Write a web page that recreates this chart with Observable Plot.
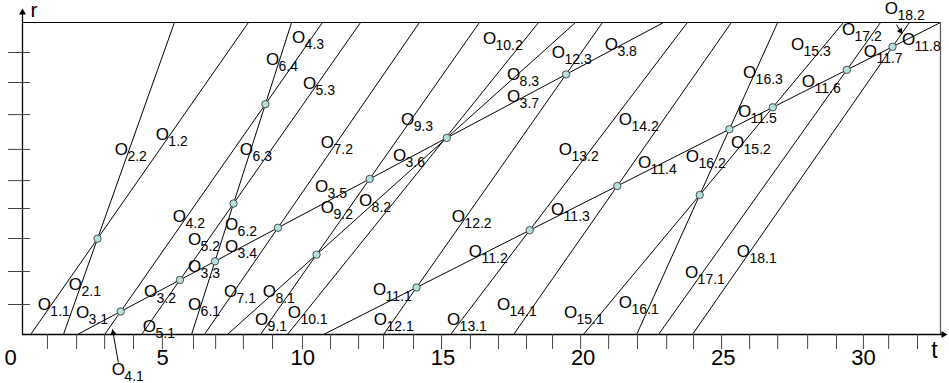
<!DOCTYPE html>
<html>
<head>
<meta charset="utf-8">
<script src="https://cdn.jsdelivr.net/npm/d3@7"></script>
<script src="https://cdn.jsdelivr.net/npm/@observablehq/plot@0.6"></script>
<style>
  html, body { margin: 0; padding: 0; background: #fff; }
  svg { display: block; }
</style>
</head>
<body>
<div id="chart"></div>
<script>
// ---------- data ----------
const R_MAX = 10.4;     // top of frame (r)
const T_MAX = 32.75;    // right of frame (t)

// each object moves along a straight line from (startT, r=0) to (endT, r=R_MAX)
const objectIds = [1,2,3,4,5,6,7,8,9,10,11,12,13,14,15,16,17,18];
const startT = [0.29, 1.46, 1.96, 2.93, 4.25, 6.03, 6.49, 7.31, 8.49, 9.45, 10.74, 12.88, 15.27, 17.52, 20.01, 21.91, 22.69, 23.90];
const endT   = [8.06, 5.42, 22.87, 10.70, 12.06, 9.60, 14.16, 19.73, 16.30, 18.41, 32.75, 20.69, 23.72, 25.29, 29.29, 26.94, 30.61, 31.64];

// interaction points (pairs of objects whose lines meet at a marked node)
const nodePairs = [[1,2],[3,4],[3,5],[3,6],[5,6],[4,6],[3,7],[8,9],[3,9],[3,8],[3,12],
                   [11,12],[11,13],[11,14],[15,16],[11,16],[11,15],[11,17],[11,18]];

// segment labels  O_{k.j}
const labelIds = ["1.1","1.2","2.1","2.2","3.1","3.2","3.3","3.4","3.5","3.6","3.7","3.8",
  "4.1","4.2","4.3","5.1","5.2","5.3","6.1","6.2","6.3","6.4","7.1","7.2","8.1","8.2","8.3",
  "9.1","9.2","9.3","10.1","10.2","11.1","11.2","11.3","11.4","11.5","11.6","11.7","11.8",
  "12.1","12.2","12.3","13.1","13.2","14.1","14.2","15.1","15.2","15.3","16.1","16.2","16.3",
  "17.1","17.2","18.1","18.2"];
const labelT = [0.78,4.99,1.89,3.53,2.14,4.57,6.14,7.46,10.67,13.45,17.52,21.01,
  3.42,5.60,9.85,4.53,6.14,10.24,6.14,7.46,7.99,8.92,7.42,10.88,8.81,12.24,17.52,
  8.53,10.88,13.74,9.70,16.66,12.74,16.16,19.09,22.19,25.76,28.04,30.25,31.61,
  12.77,15.55,19.12,15.38,19.37,17.16,21.51,19.55,25.51,27.65,21.51,23.90,25.94,
  23.87,29.47,25.72,31.00];
const labelR = [1.00,6.67,1.67,6.17,0.73,1.43,2.27,2.93,4.93,5.97,7.93,9.67,
  -1.17,3.93,9.90,0.27,3.17,8.37,1.00,3.67,6.17,9.17,1.43,6.40,1.43,4.47,8.67,
  0.50,4.23,7.17,0.73,9.87,1.50,2.77,4.17,5.73,7.43,8.43,9.43,9.83,
  0.50,3.93,9.40,0.50,6.17,1.00,7.17,0.73,6.40,9.67,1.07,5.93,8.73,
  2.07,10.17,2.77,10.87];

// label pointer arrows (from label to line)
const pointerFromT = [3.42, 31.18];
const pointerFromR = [-0.93, 10.33];
const pointerToT   = [3.21, 31.38];
const pointerToR   = [0.17, 10.02];

// axis ticks (hand drawn, slightly irregular)
const xTicks = [0.89,1.93,2.93,3.96,4.99,6.10,6.89,7.88,8.92,9.99,10.99,11.99,12.88,13.95,14.95,
  15.98,16.98,17.98,18.91,19.91,20.91,21.94,22.98,23.94,24.94,25.94,26.94,28.01,29.04,30.00,30.90,31.93];
const yTicks = [1.00,2.10,3.20,4.20,5.13,6.17,7.33,8.40,9.40];
const xTickLabels = [5,10,15,20,25,30];
const xOriginLabel = [0];

// ---------- derived ----------
const W = 949, H = 383, ML = 22, MR = 9, MT = 22, MB = 49;
const kx = (W - ML - MR) / T_MAX;   // px per t
const ky = (H - MT - MB) / R_MAX;   // px per r

const objects = objectIds.map((id, i) => ({id, t0: startT[i], t1: endT[i], s: (endT[i] - startT[i]) / R_MAX}));
const byId = new Map(objects.map(o => [o.id, o]));
const nodes = nodePairs.map(([a, b]) => {
  const A = byId.get(a), B = byId.get(b);
  const r = (B.t0 - A.t0) / (A.s - B.s);
  return {t: A.t0 + A.s * r, r};
});
const labels = labelIds.map((id, i) => ({id, t: labelT[i], r: labelR[i]}));

// arrow heads: triangle centred back from the tip along the direction
function head(t1, r1, t2, r2, back) {
  const dx = (t2 - t1) * kx, dy = -(r2 - r1) * ky;
  const L = Math.hypot(dx, dy);
  const ux = dx / L, uy = dy / L;
  return {
    t: t2 - ux * back / kx,
    r: r2 + uy * back / ky,
    rot: Math.atan2(ux, -uy) * 180 / Math.PI
  };
}
const pointers = pointerFromT.map((_, i) => ({
  t1: pointerFromT[i], r1: pointerFromR[i], t2: pointerToT[i], r2: pointerToR[i]
}));
const pointerHeads = pointers.map(p => head(p.t1, p.r1, p.t2, p.r2, 3.4));

const yAxisTip = R_MAX + 14 / ky;    // axis arrow tips beyond the frame
const xAxisTip = T_MAX + 7 / kx;
const axisHeads = [head(0, 0, 0, yAxisTip, 4), head(0, 0, xAxisTip, 0, 4)];

const chart = Plot.plot({
  width: W, height: H,
  marginLeft: ML, marginRight: MR, marginTop: MT, marginBottom: MB,
  x: {domain: [0, T_MAX], axis: null},
  y: {domain: [0, R_MAX], axis: null},
  style: {fontFamily: "'Liberation Sans', Arial, Helvetica, sans-serif", background: "#fff", color: "#000", overflow: "visible"},
  marks: [
    // object trajectories
    Plot.link(objects, {x1: "t0", y1: () => 0, x2: "t1", y2: () => R_MAX, stroke: "#000", strokeWidth: 1}),
    // frame
    Plot.ruleY([R_MAX], {x1: () => 0, x2: () => T_MAX, stroke: "#000", strokeWidth: 1.2}),
    Plot.ruleX([T_MAX], {y1: () => 0, y2: () => R_MAX, stroke: "#555", strokeWidth: 1.2}),
    // axes
    Plot.ruleX([0], {y1: () => 0, y2: () => yAxisTip - 3 / ky, stroke: "#000", strokeWidth: 1.3}),
    Plot.ruleY([0], {x1: () => 0, x2: () => xAxisTip - 3 / kx, stroke: "#000", strokeWidth: 1.3}),
    Plot.ruleX(xTicks, {y1: () => 0, y2: () => -15 / ky, stroke: "#444", strokeWidth: 1}),
    Plot.ruleY(yTicks, {x1: () => -14 / kx, x2: () => 8 / kx, stroke: "#444", strokeWidth: 1}),
    Plot.dot(axisHeads, {x: "t", y: "r", rotate: "rot", symbol: "triangle", r: 2.6, fill: "#000", stroke: "none"}),
    Plot.text(xTickLabels, {x: d => d, y: () => 0, dy: 23, text: d => String(d), fontSize: 22}),
    Plot.text(xOriginLabel, {x: d => d, y: () => 0, dy: 23, dx: -12, text: d => String(d), fontSize: 22}),
    Plot.text(["r"], {x: () => 0, y: () => yAxisTip, dx: 8, dy: 2, textAnchor: "start", fontSize: 21}),
    Plot.text(["t"], {x: () => T_MAX, y: () => 0, dx: -6, dy: 16, fontSize: 23}),
    // label pointers
    Plot.link(pointers, {x1: "t1", y1: "r1", x2: "t2", y2: "r2", stroke: "#000", strokeWidth: 1}),
    Plot.dot(pointerHeads, {x: "t", y: "r", rotate: "rot", symbol: "triangle", r: 2.3, fill: "#000", stroke: "none"}),
    // interaction nodes
    Plot.dot(nodes, {x: "t", y: "r", r: 3.7, fill: "#b4e0df", stroke: "#2a2a2a", strokeWidth: 0.8}),
    // segment labels
    Plot.text(labels, {x: "t", y: "r", text: () => "O", fontSize: 17}),
    Plot.text(labels, {x: "t", y: "r", text: "id", fontSize: 14, textAnchor: "start", dx: 6, dy: 7})
  ]
});
document.getElementById("chart").appendChild(chart);
</script>
</body>
</html>
